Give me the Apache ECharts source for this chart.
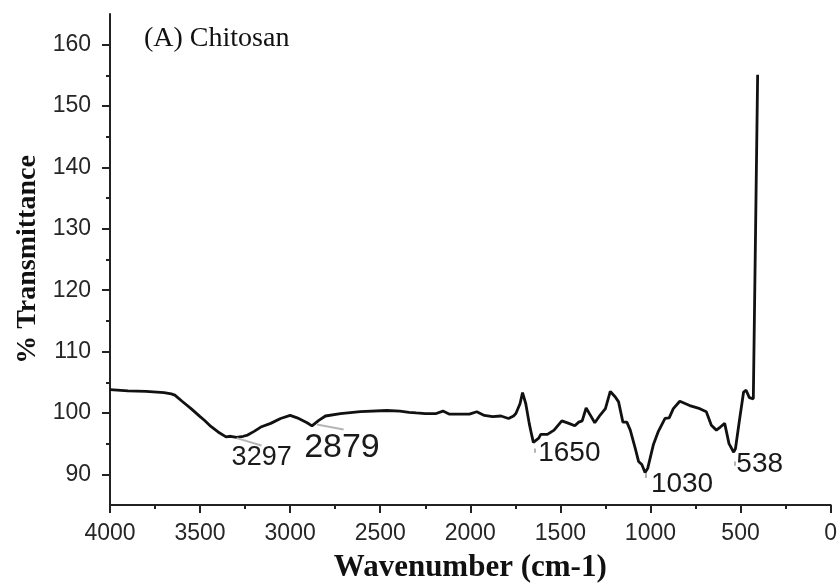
<!DOCTYPE html>
<html>
<head>
<meta charset="utf-8">
<title>FTIR spectrum – Chitosan</title>
<script src="https://cdn.jsdelivr.net/npm/echarts@6/dist/echarts.min.js"></script>
<style>
  html, body { margin: 0; padding: 0; background: #ffffff; }
  #chart { width: 840px; height: 588px; }
</style>
</head>
<body>
<div id="chart"></div>
<script>
// FTIR spectrum of chitosan: wavenumber (cm-1) and % transmittance
const wavenumbers = [
  4000, 3900, 3800, 3700, 3660, 3640, 3600, 3550, 3500, 3476, 3440, 3400,
  3356, 3330, 3297, 3260, 3236, 3200, 3163, 3108, 3053, 3000, 2961, 2906,
  2879, 2841, 2804, 2721, 2611, 2464, 2391, 2340, 2300, 2250, 2189, 2152,
  2115, 2060, 2005, 1964, 1922, 1876, 1830, 1788, 1760, 1747, 1724, 1710,
  1692, 1673, 1660, 1650, 1620, 1609, 1572, 1535, 1492, 1453, 1420, 1398,
  1379, 1357, 1333, 1309, 1278, 1250, 1223, 1195, 1177, 1153, 1131, 1112,
  1084, 1066, 1048, 1030, 1015, 993, 984, 956, 919, 896, 873, 837,
  782, 726, 690, 662, 634, 612, 588, 564, 538, 528, 506, 483,
  469, 451, 429, 419, 405
];
const transmittance = [
  103.8, 103.6, 103.5, 103.3, 103.1, 102.9, 101.9, 100.7, 99.4, 98.8, 97.8, 96.9,
  96.1, 96.2, 96.0, 96.2, 96.4, 97.0, 97.7, 98.3, 99.1, 99.6, 99.2, 98.4,
  97.9, 98.8, 99.5, 99.9, 100.2, 100.4, 100.3, 100.1, 100.0, 99.9, 99.9, 100.3,
  99.8, 99.8, 99.8, 100.2, 99.6, 99.4, 99.5, 99.1, 99.5, 99.9, 101.5, 103.3,
  101.5, 98.3, 96.5, 95.2, 95.9, 96.5, 96.5, 97.2, 98.7, 98.3, 97.9, 98.5,
  98.7, 100.8, 99.6, 98.4, 99.7, 100.7, 103.5, 102.6, 101.8, 98.5, 98.5, 97.2,
  94.2, 92.1, 91.6, 90.3, 91.0, 93.7, 94.8, 97.0, 99.1, 99.2, 100.7, 101.9,
  101.2, 100.7, 100.2, 98.0, 97.2, 97.7, 98.3, 95.0, 93.6, 94.2, 98.8, 103.4,
  103.7, 102.5, 102.3, 102.0, 155.1
];

// Annotated absorption bands
const peakWavenumbers = [3297, 2879, 1650, 1030, 538];

// Axis tick values
const xTicks = [4000, 3500, 3000, 2500, 2000, 1500, 1000, 500, 0];
const yMajorTicks = [90, 100, 110, 120, 130, 140, 150, 160];
const yMinorTicks = [95, 105, 115, 125, 135, 145, 155];

const spectrum = wavenumbers.map((w, i) => [w, transmittance[i]]);
const valueAt = w => transmittance[wavenumbers.indexOf(w)];

// Label placement (pixel offsets from each band minimum) and sizes
const labelStyle = {
  3297: { dx: 25, dy: 20, size: 27 },
  2879: { dx: 30, dy: 22, size: 34 },
  1650: { dx: 36, dy: 11, size: 28 },
  1030: { dx: 37, dy: 12, size: 28 },
  538:  { dx: 26, dy: 12, size: 28 }
};

// Grey leader strokes next to the labels, in axis units relative to the band
const leaderStyle = {
  3297: [[0, -0.1], [-138, -1.3]],
  2879: [[-27, 0.2], [-176, -0.6]],
  1650: [[-6, -1.0], [-6, -1.7]],
  1030: [[-4, -0.1], [-4, -0.9]],
  538:  [[-5, -1.5], [-5, -2.2]]
};

const markPoints = peakWavenumbers.map(w => ({
  coord: [w, valueAt(w)],
  symbol: 'circle',
  symbolSize: 0,
  label: {
    show: true,
    formatter: String(w),
    position: 'inside',
    offset: [labelStyle[w].dx, labelStyle[w].dy],
    fontFamily: 'Liberation Sans, Arial, sans-serif',
    fontSize: labelStyle[w].size,
    color: '#1a1a1a'
  }
}));

const markLines = peakWavenumbers.map(w => {
  const base = valueAt(w);
  const seg = leaderStyle[w];
  return [
    { coord: [w + seg[0][0], base + seg[0][1]] },
    { coord: [w + seg[1][0], base + seg[1][1]] }
  ];
});

const chart = echarts.init(document.getElementById('chart'), null, { renderer: 'canvas' });

const tickFont = {
  fontFamily: 'Liberation Sans, Arial, sans-serif',
  fontSize: 23,
  color: '#262626'
};

chart.setOption({
  backgroundColor: '#ffffff',
  animation: false,
  title: {
    text: '(A) Chitosan',
    left: 139,
    top: 20,
    textStyle: {
      fontFamily: 'Liberation Serif, Times New Roman, serif',
      fontWeight: 'normal',
      fontSize: 28,
      color: '#111'
    }
  },
  grid: { left: 110, right: 5, top: 14, bottom: 79, containLabel: false },
  xAxis: {
    type: 'value',
    min: 0,
    max: 4000,
    interval: 500,
    inverse: true,
    name: 'Wavenumber (cm-1)',
    nameLocation: 'middle',
    nameGap: 47,
    nameTextStyle: {
      fontFamily: 'Liberation Serif, Times New Roman, serif',
      fontWeight: 'bold',
      fontSize: 31,
      color: '#111'
    },
    axisLine: { show: true, onZero: false, lineStyle: { color: '#222', width: 2 } },
    axisTick: { show: true, inside: false, length: 8, lineStyle: { color: '#222', width: 2 } },
    minorTick: { show: true, splitNumber: 2, length: 4, lineStyle: { color: '#222', width: 2 } },
    axisLabel: Object.assign({
      margin: 17,
      customValues: xTicks,
      formatter: v => String(v)
    }, tickFont),
    splitLine: { show: false },
    minorSplitLine: { show: false }
  },
  yAxis: [
    {
      type: 'value',
      position: 'left',
      offset: 0,
      min: 85,
      max: 165,
      interval: 5,
      name: '% Transmittance',
      nameLocation: 'middle',
      nameGap: 68,
      nameTextStyle: {
        fontFamily: 'Liberation Serif, Times New Roman, serif',
        fontWeight: 'bold',
        fontSize: 28,
        color: '#111'
      },
      axisLine: { show: true, onZero: false, lineStyle: { color: '#222', width: 2 } },
      axisTick: { show: true, inside: false, length: 8, customValues: yMajorTicks, lineStyle: { color: '#222', width: 2 } },
      axisLabel: Object.assign({ margin: 19, customValues: yMajorTicks }, tickFont),
      splitLine: { show: false }
    },
    {
      type: 'value',
      position: 'left',
      offset: 0,
      min: 85,
      max: 165,
      interval: 5,
      axisLine: { show: false, onZero: false },
      axisTick: { show: true, inside: false, length: 4, customValues: yMinorTicks, lineStyle: { color: '#222', width: 2 } },
      axisLabel: { show: false },
      splitLine: { show: false }
    }
  ],
  series: [
    {
      name: 'Chitosan',
      type: 'line',
      data: spectrum,
      showSymbol: false,
      smooth: false,
      clip: false,
      lineStyle: { color: '#111', width: 2.8 },
      markPoint: { silent: true, data: markPoints },
      markLine: {
        silent: true,
        symbol: ['none', 'none'],
        label: { show: false },
        lineStyle: { color: '#b5b5b5', width: 2, type: 'solid' },
        data: markLines
      }
    }
  ]
});
</script>
</body>
</html>
